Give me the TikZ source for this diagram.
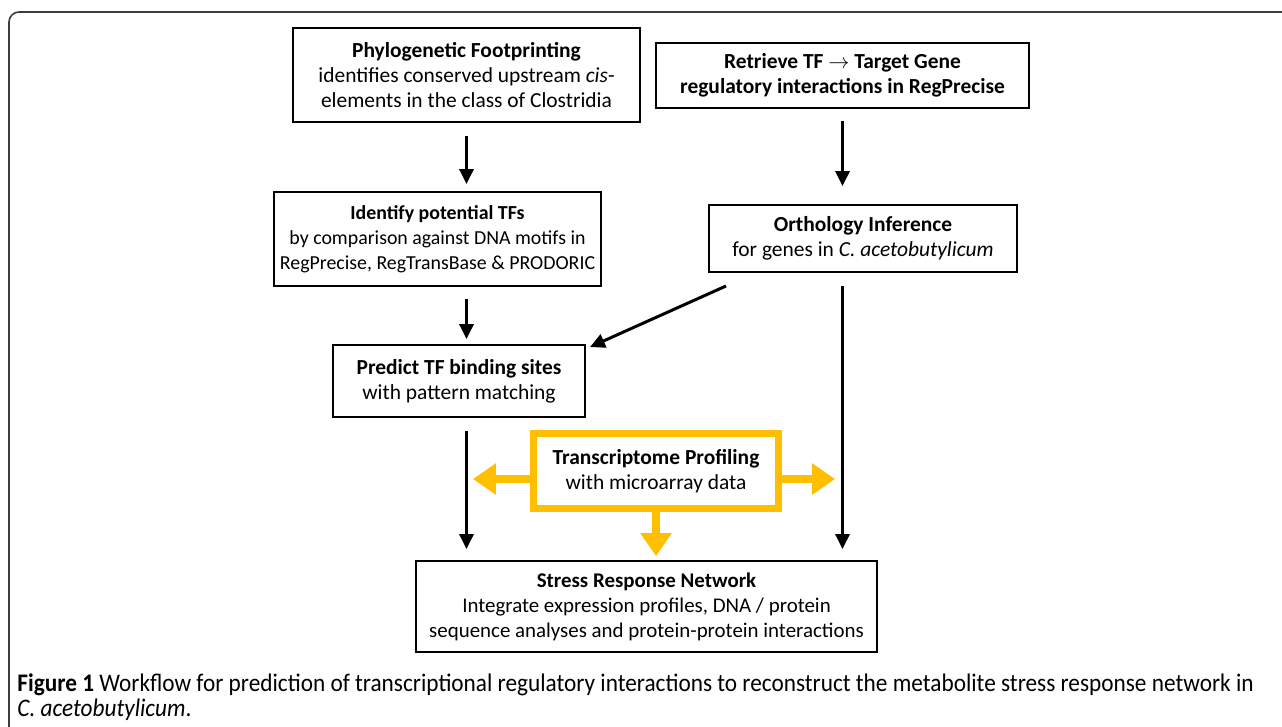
\documentclass[tikz,border=0pt]{standalone}
\usepackage{fontspec}
\setmainfont{Carlito}
\usetikzlibrary{arrows.meta,positioning,calc}
\definecolor{profgold}{RGB}{255,190,0}
\definecolor{framegray}{RGB}{60,60,60}

\begin{document}
\begin{tikzpicture}[
    box/.style={draw, line width=1.1pt, align=center, inner sep=2pt,
                font=\fontsize{12.2}{14.3}\selectfont},
    flow/.style={-{Triangle[length=8.5pt,width=8pt]}, line width=1.7pt},
    goldflow/.style={-{Triangle[length=13pt,width=17pt]}, line width=5pt, profgold},
]
\useasboundingbox (0,0) rectangle (25.64,-14.52);

% Outer frame
\draw[framegray, line width=0.9pt, rounded corners=0.2cm]
    (0.18,-14.7) -- (0.18,-0.24) -- (25.8,-0.24);

% Sources
\node[box, minimum width=6.94cm, minimum height=1.88cm] (phylo) at (9.33,-1.50)
    {\textbf{Phylogenetic Footprinting}\\ identifies conserved upstream \textit{cis}-\\ elements in the class of Clostridia};
\node[box, minimum width=7.46cm, minimum height=1.30cm] (retrieve) at (16.85,-1.51)
    {\textbf{Retrieve TF $\rightarrow$ Target Gene}\\ \textbf{regulatory interactions in RegPrecise}};

% Middle steps
\node[box, font=\fontsize{11.3}{14.3}\selectfont, minimum width=6.54cm, minimum height=1.88cm] (identify) at (8.75,-4.78)
    {\textbf{Identify potential TFs}\\ by comparison against DNA motifs in\\ RegPrecise, RegTransBase \& PRODORIC};
\node[box, minimum width=6.16cm, minimum height=1.34cm] (ortho) at (17.26,-4.77)
    {\textbf{Orthology Inference}\\ for genes in \textit{C. acetobutylicum}};
\node[box, minimum width=5.04cm, minimum height=1.44cm] (predict) at (9.18,-7.62)
    {\textbf{Predict TF binding sites}\\ with pattern matching};

% Expression data
\node[box, draw=profgold, line width=4pt, minimum width=4.90cm, minimum height=1.50cm] (profile) at (13.12,-9.42)
    {\textbf{Transcriptome Profiling}\\ with microarray data};

% Result
\node[box, font=\fontsize{11.9}{14.3}\selectfont, minimum width=9.22cm, minimum height=1.82cm] (network) at (12.93,-12.13)
    {\textbf{Stress Response Network}\\ Integrate expression profiles, DNA / protein\\ sequence analyses and protein-protein interactions};

% Black arrows
\draw[flow, shorten <=0.26cm, shorten >=0.14cm] (phylo.south) -- (phylo.south |- identify.north);
\draw[flow, shorten <=0.24cm, shorten >=0.36cm] (retrieve.south) -- (retrieve.south |- ortho.north);
\draw[flow, shorten <=0.24cm, shorten >=0.10cm] (phylo.south |- identify.south) -- (phylo.south |- predict.north);
\draw[flow] ($(ortho.south west)+(0.36,-0.26)$) -- ($(predict.north east)+(0.08,-0.06)$);
\draw[flow, shorten <=0.26cm, shorten >=0.22cm] (retrieve.south |- ortho.south) -- (retrieve.south |- network.north);
\draw[flow, shorten <=0.26cm, shorten >=0.22cm] (phylo.south |- predict.south) -- (phylo.south |- network.north);

% Gold arrows
\coordinate (leftend) at (9.46,-9.58);
\coordinate (rightend) at (16.70,-9.58);
\draw[goldflow] (profile.west |- leftend) -- (leftend);
\draw[goldflow] (profile.east |- rightend) -- (rightend);
\draw[goldflow, shorten >=0.08cm] (profile.south) -- (profile.south |- network.north);

% Caption
\node[anchor=north west, align=left, inner sep=0pt, font=\fontsize{14.4}{14.3}\selectfont] (caption) at (0.34,-13.47)
    {\scalebox{0.92}[1]{\textbf{Figure 1} Workflow for prediction of transcriptional regulatory interactions to reconstruct the metabolite stress response network in}\\
     \scalebox{0.92}[1]{\textit{C. acetobutylicum}.}};
\end{tikzpicture}
\end{document}
